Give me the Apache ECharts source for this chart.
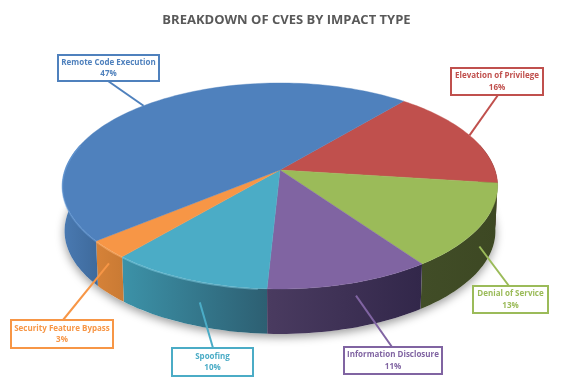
<!DOCTYPE html>
<html><head><meta charset="utf-8">
<style>html,body{margin:0;padding:0;background:#fff}#c{width:562px;height:389px}</style>
<script src="https://cdn.jsdelivr.net/npm/echarts@6/dist/echarts.min.js"></script>
</head><body><div id="c"></div>
<script>
// Data (clockwise, beginning at the first slice)
const categories = ['Elevation of Privilege','Denial of Service','Information Disclosure','Spoofing','Security Feature Bypass','Remote Code Execution'];
const values = [15.9,13.2,10.6,10.4,2.8,47.1];
const titleText = 'BREAKDOWN OF CVES BY IMPACT TYPE';

// Style
const topColors = ['#c0504d','#9bbb59','#8064a2','#4bacc6','#f79646','#4f81bd'];
const wallStops = [['#5a2a28','#4a2220'],['#414d27','#3d4823'],['#4a3b60','#32274a'],['#3c92a8','#2d5f72'],['#d68238','#c97a34'],['#4a7ab2','#3e6a9c']];
const rimLights = ['#c0504d','#9bbb59','#8d72b0','#7fd0e6','#ffb878','#6ea2de'];

// Layout (pixel placement of the tilted disc and label boxes)
const P = {cx:280, cy:170, rx:215, ry:100.5, k:-0.155, depth:45, bottomScale:0.99, start:40};
const boxes = [[451,68,92,27],[473,286,75,27],[344,347,98,27],[172,348,81,28],[11,320,102,28],[58,55,101,26]];
const boxAnchors = [[498,95],[509,286],[392,347],[213,348],[63,320],[108,81]];
const leaderNudge = [[0,0],[0,0],[6,-8],[12,3],[0,-6],[0,0]];

const total = values.reduce((a,b)=>a+b,0);
function angles(i){ let s=P.start; for(let j=0;j<i;j++) s+=values[j]/total*360; return [s, s+values[i]/total*360]; }
function rim(deg, low){
  const r=deg*Math.PI/180, X=Math.sin(r), Y=-Math.cos(r), w=1+P.k*Y;
  const x=P.rx*X/w, y=P.ry*Y/w;
  const s=low?(low*(P.bottomScale-1)+1):1;
  return [P.cx+x*s, P.cy+y+(low||0)*P.depth];
}
function arc(a0,a1,low){ const n=Math.max(2,Math.ceil((a1-a0)/1.5)), o=[]; for(let t=0;t<=n;t++) o.push(rim(a0+(a1-a0)*t/n,low)); return o; }

const LG=echarts.graphic.LinearGradient;
const idx=categories.map((c,i)=>[i,values[i]]);

const option={
  animation:false,
  title:{text:titleText,left:281.5,top:9,textAlign:'center',textStyle:{fontFamily:'Open Sans',fontSize:13,fontWeight:'bold',color:'#595959'}},
  series:[
    {type:'custom',coordinateSystem:'none',z:1,silent:true,data:[[0]],renderItem(){
      return {type:'polygon',shape:{points:arc(0,360,1)},style:{fill:'#fff',shadowBlur:10,shadowColor:'rgba(0,0,0,0.4)',shadowOffsetY:3}};
    }},
    {type:'custom',coordinateSystem:'none',z:2,silent:true,data:idx,renderItem(p,api){
      const i=api.value(0),[s0,s1]=angles(i);
      const a0=Math.max(s0,75),a1=Math.min(s1,285);
      if(a1<=a0) return {type:'group',children:[]};
      const pts=arc(a0,a1,0).concat(arc(a0,a1,1).reverse());
      return {type:'polygon',shape:{points:pts},style:{fill:new LG(0,0,1,0,[{offset:0,color:wallStops[i][0]},{offset:1,color:wallStops[i][1]}])}};
    }},
    {type:'custom',coordinateSystem:'none',z:3,silent:true,data:idx,renderItem(p,api){
      const i=api.value(0),[a0,a1]=angles(i);
      const kids=[{type:'polygon',shape:{points:[[P.cx,P.cy]].concat(arc(a0,a1,0))},style:{fill:topColors[i],stroke:topColors[i],lineWidth:0.4}}];
      const h0=Math.max(a0,185),h1=Math.min(a1,285);
      if(h1>h0) kids.push({type:'polyline',shape:{points:arc(h0,h1,0.015)},style:{fill:null,stroke:rimLights[i],lineWidth:1.6,opacity:0.5}});
      return {type:'group',children:kids};
    }},
    {type:'custom',coordinateSystem:'none',z:4,silent:true,data:idx,renderItem(p,api){
      const i=api.value(0),[a0,a1]=angles(i),mid=(a0+a1)/2;
      const front=Math.cos(mid*Math.PI/180)<0;
      const end=rim(mid,front?0.45:0);
      const [bx,by,bw,bh]=boxes[i],c=topColors[i];
      return {type:'group',children:[
        {type:'line',shape:{x1:boxAnchors[i][0],y1:boxAnchors[i][1],x2:end[0]+leaderNudge[i][0],y2:end[1]+leaderNudge[i][1]},style:{stroke:c,lineWidth:2}},
        {type:'rect',shape:{x:bx,y:by,width:bw,height:bh},style:{fill:'#fff',stroke:c,lineWidth:2}},
        {type:'text',x:bx+bw/2,y:by+bh/2-5.5,style:{text:categories[i],fill:c,font:'bold 8px "Open Sans"',align:'center',verticalAlign:'middle'}},
        {type:'text',x:bx+bw/2,y:by+bh/2+6,style:{text:Math.round(values[i])+'%',fill:c,font:'bold 8px "Open Sans"',align:'center',verticalAlign:'middle'}}
      ]};
    }}
  ]
};
const chart=echarts.init(document.getElementById('c'),null,{renderer:'canvas',width:562,height:389});
chart.setOption(option);
</script></body></html>
